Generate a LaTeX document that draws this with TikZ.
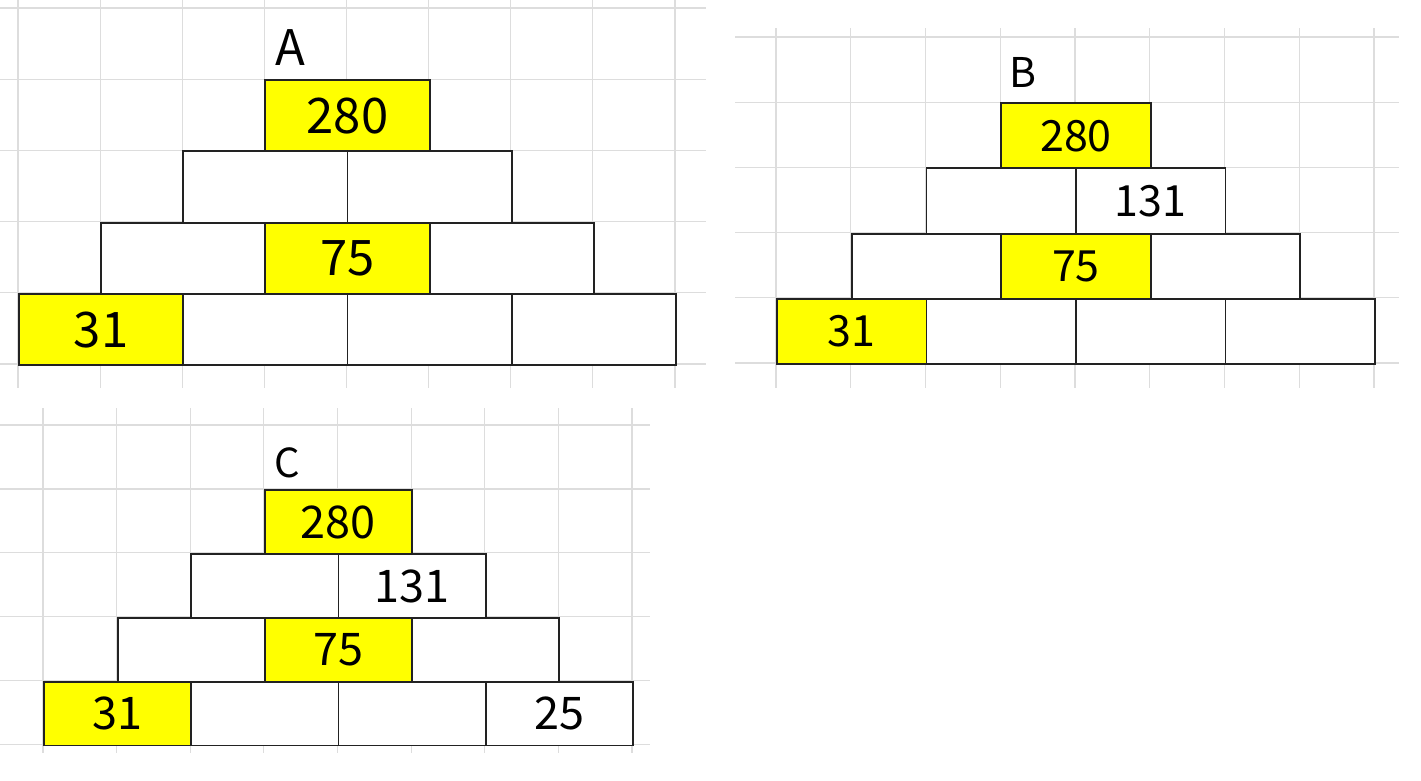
\documentclass[tikz,border=0pt]{standalone}
\usepackage{fontspec}
\setmainfont{Noto Sans CJK SC}
\definecolor{gridc}{HTML}{DDDDDD}
\definecolor{brickc}{HTML}{222222}
\definecolor{yel}{HTML}{FFFF00}
\begin{document}
\begin{tikzpicture}[x=1pt,y=-1pt]
\tikzset{
  gridline/.style={draw=gridc,line width=1.2pt},
  brick/.style={draw=brickc,line width=1.9pt,fill=white,anchor=north west,inner sep=0pt,text depth=-6pt},
  hi/.style={fill=yel},
  panellabel/.style={inner sep=0pt,text depth=0pt}
}
\useasboundingbox (0,0) rectangle (1421,780);
\fill[white] (0,0) rectangle (1421,780);

% ---------- Panel A ----------
\foreach \i in {0,...,8} \draw[gridline] ({18+\i*82.125},0) -- ({18+\i*82.125},388);
\foreach \j in {0,...,5} \draw[gridline] (0,{8+\j*71.2}) -- (706,{8+\j*71.2});
\begin{scope}[shift={(18,8)},x=82.125pt,y=-71.2pt,
  every node/.append style={minimum width=164.25pt,minimum height=71.2pt,font=\fontsize{49}{58}\selectfont}]
  \node[brick,hi] (a1) at (3,1) {280};
  \node[brick] (a2l) at (2,2) {};
  \node[brick] (a2r) at (4,2) {};
  \node[brick] (a3l) at (1,3) {};
  \node[brick,hi] (a3m) at (3,3) {75};
  \node[brick] (a3r) at (5,3) {};
  \node[brick,hi] (a4a) at (0,4) {31};
  \node[brick] (a4b) at (2,4) {};
  \node[brick] (a4c) at (4,4) {};
  \node[brick] (a4d) at (6,4) {};
\end{scope}
\node[panellabel,font=\fontsize{49}{58}\selectfont] (la) at (290,48) {A};

% ---------- Panel B ----------
\foreach \i in {0,...,8} \draw[gridline] ({776+\i*74.75},28) -- ({776+\i*74.75},388);
\foreach \j in {0,...,5} \draw[gridline] (735,{37+\j*65.2}) -- (1399,{37+\j*65.2});
\begin{scope}[shift={(776,37)},x=74.75pt,y=-65.2pt,
  every node/.append style={minimum width=149.5pt,minimum height=65.2pt,font=\fontsize{43}{51}\selectfont}]
  \node[brick,hi] (b1) at (3,1) {280};
  \node[brick] (b2l) at (2,2) {};
  \node[brick] (b2r) at (4,2) {131};
  \node[brick] (b3l) at (1,3) {};
  \node[brick,hi] (b3m) at (3,3) {75};
  \node[brick] (b3r) at (5,3) {};
  \node[brick,hi] (b4a) at (0,4) {31};
  \node[brick] (b4b) at (2,4) {};
  \node[brick] (b4c) at (4,4) {};
  \node[brick] (b4d) at (6,4) {};
\end{scope}
\node[panellabel,font=\fontsize{41}{49}\selectfont] (lb) at (1023,72) {B};

% ---------- Panel C ----------
\foreach \i in {0,...,8} \draw[gridline] ({43+\i*73.625},408) -- ({43+\i*73.625},753);
\foreach \j in {0,...,5} \draw[gridline] (0,{425+\j*63.9}) -- (650,{425+\j*63.9});
\begin{scope}[shift={(43,425)},x=73.625pt,y=-63.9pt,
  every node/.append style={minimum width=147.25pt,minimum height=63.9pt,font=\fontsize{45}{54}\selectfont}]
  \node[brick,hi] (c1) at (3,1) {280};
  \node[brick] (c2l) at (2,2) {};
  \node[brick] (c2r) at (4,2) {131};
  \node[brick] (c3l) at (1,3) {};
  \node[brick,hi] (c3m) at (3,3) {75};
  \node[brick] (c3r) at (5,3) {};
  \node[brick,hi] (c4a) at (0,4) {31};
  \node[brick] (c4b) at (2,4) {};
  \node[brick] (c4c) at (4,4) {};
  \node[brick] (c4d) at (6,4) {25};
\end{scope}
\node[panellabel,font=\fontsize{40}{48}\selectfont] (lc) at (287,462.5) {C};
\end{tikzpicture}
\end{document}
